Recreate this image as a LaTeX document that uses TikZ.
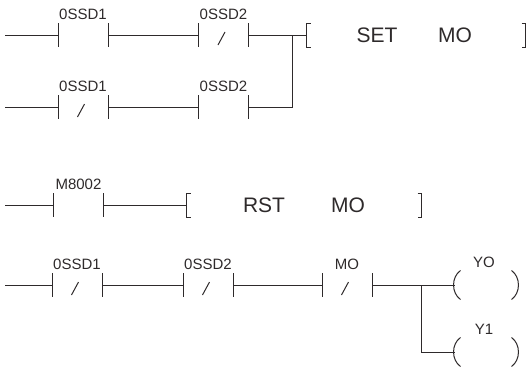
\documentclass[tikz,border=0pt]{standalone}
\usepackage{fontspec}
\setmainfont{Liberation Sans}
\definecolor{ink}{HTML}{2E2A2B}

\tikzset{
  nocontact/.style={inner sep=0, minimum width=49, minimum height=23,
    append after command={(\tikzlastnode.north west) edge (\tikzlastnode.south west)
      (\tikzlastnode.north east) edge (\tikzlastnode.south east)}},
  nccontact/.style={nocontact,
    append after command={([xshift=-5.5pt,yshift=-10pt]\tikzlastnode.center)
      edge ([xshift=1.5pt,yshift=3pt]\tikzlastnode.center)}},
  coil/.style={inner sep=0, minimum width=62, minimum height=28,
    append after command={([xshift=6pt]\tikzlastnode.north west)
      edge[bend right=55] ([xshift=6pt]\tikzlastnode.south west)
      ([xshift=-6pt]\tikzlastnode.north east)
      edge[bend left=55] ([xshift=-6pt]\tikzlastnode.south east)}},
  tag/.style={anchor=south, inner sep=1pt, yshift=1.5pt,
    font=\fontsize{15}{16}\selectfont},
  instr/.style={inner sep=0, minimum height=23},
  op/.style={font=\fontsize{21}{21}\selectfont},
}

\begin{document}
\begin{tikzpicture}[x=1pt, y=-1pt, line width=1pt, color=ink]
\useasboundingbox (0,0) rectangle (530,367);

% SET rung, two branches
\coordinate (r1) at (5,35);
\node (a1) [nocontact] at (83,35) {};
\node (a2) [nccontact] at (223.5,35) {};
\coordinate (j1) at (292,35);
\node (setins) [instr, minimum width=218] at (416,35) {};
\node (setop) [op] at (377,35) {SET};
\node (setarg) [op] at (455,35) {MO};
\coordinate (r2) at (5,107);
\node (b1) [nccontact] at (83,107) {};
\node (b2) [nocontact] at (223.5,107) {};
\node (a1t) [tag] at (a1.north) {0SSD1};
\node (a2t) [tag] at (a2.north) {0SSD2};
\node (b1t) [tag] at (b1.north) {0SSD1};
\node (b2t) [tag] at (b2.north) {0SSD2};

\draw (r1) -- (a1) -- (a2) -- (setins);
\draw (r2) -- (b1) -- (b2) -| (j1);
\draw ([xshift=4pt]setins.north west) -- (setins.north west)
    -- (setins.south west) -- ([xshift=4pt]setins.south west);
\draw ([xshift=-4pt]setins.north east) -- (setins.north east)
    -- (setins.south east) -- ([xshift=-4pt]setins.south east);

% RST rung
\coordinate (r3) at (5,205);
\node (c1) [nocontact] at (78.5,205) {};
\node (c1t) [tag] at (c1.north) {M8002};
\node (rstins) [instr, minimum width=234] at (304,205) {};
\node (rstop) [op] at (264,205) {RST};
\node (rstarg) [op] at (348,205) {MO};

\draw (r3) -- (c1) -- (rstins);
\draw ([xshift=4pt]rstins.north west) -- (rstins.north west)
    -- (rstins.south west) -- ([xshift=4pt]rstins.south west);
\draw ([xshift=-4pt]rstins.north east) -- (rstins.north east)
    -- (rstins.south east) -- ([xshift=-4pt]rstins.south east);

% output rung
\coordinate (r4) at (5,285);
\node (d1) [nccontact] at (77,285) {};
\node (d2) [nccontact] at (208,285) {};
\node (d3) [nccontact] at (347,285) {};
\coordinate (j2) at (421,285);
\node (y0) [coil] at (486,285) {};
\node (y1) [coil] at (486,352) {};
\node (d1t) [tag] at (d1.north) {0SSD1};
\node (d2t) [tag] at (d2.north) {0SSD2};
\node (d3t) [tag] at (d3.north) {MO};
\node (y0t) [tag, xshift=-2pt] at (y0.north) {YO};
\node (y1t) [tag, xshift=-2pt] at (y1.north) {Y1};

\draw (r4) -- (d1) -- (d2) -- (d3) -- (y0);
\draw (j2) |- (y1);
\end{tikzpicture}
\end{document}
